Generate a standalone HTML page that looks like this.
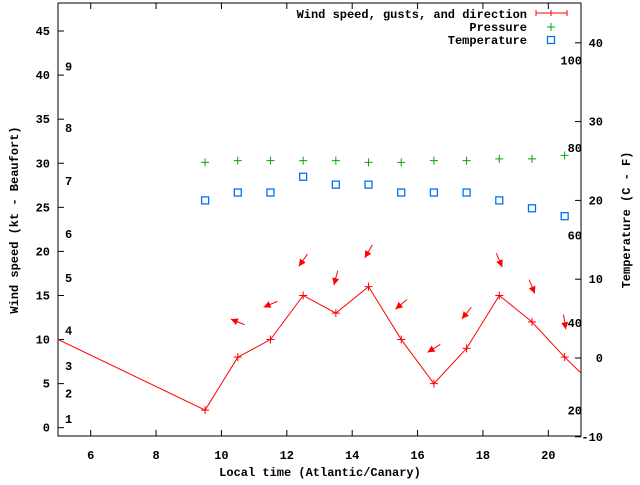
<!DOCTYPE html>
<html><head><meta charset="utf-8"><style>
body{margin:0;background:#fff}
svg text{font-family:"Liberation Mono",monospace;font-weight:bold;font-size:12px;fill:#000}
</style></head><body>
<svg id="chart" width="640" height="480" xmlns="http://www.w3.org/2000/svg">
<g id="axes"></g><g id="marks"></g><g id="legend"></g>
</svg>
<script>
const hours = [9.5,10.5,11.5,12.5,13.5,14.5,15.5,16.5,17.5,18.5,19.5,20.5];
const windSpeed = [2,8,10,15,13,16,10,5,9,15,12,8];
const lineHours = [4.5,9.5,10.5,11.5,12.5,13.5,14.5,15.5,16.5,17.5,18.5,19.5,20.5,21.5];
const lineSpeed = [10.9,2,8,10,15,13,16,10,5,9,15,12,8,4.4];
const gustHours = [10.5,11.5,12.5,13.5,14.5,15.5,16.5,17.5,18.5,19.5,20.5];
const gustSpeed = [12,14,19,17,20,14,9,13,19,16,12];
const windFrom = [112,67,35,15,30,50,58,39,337,338,351];
const pressure = [30.1,30.3,30.3,30.3,30.3,30.1,30.1,30.3,30.3,30.5,30.5,30.9];
const temperature = [20,21,21,23,22,22,21,21,21,20,19,18];
const xTicks = [6,8,10,12,14,16,18,20];
const yTicks = [0,5,10,15,20,25,30,35,40,45];
const y2Ticks = [-10,0,10,20,30,40];
const beaufort = [[1,1],[2,3.9],[3,7],[4,11],[5,17],[6,22],[7,28],[8,34],[9,41]];
const fahrenheit = [20,40,60,80,100];

const L=58,R=581,T=3,B=436;
const X=v=>L+(v-5)*(R-L)/16;
const Y=v=>427.7-v*8.815;
const Y2=v=>358-v*7.88;
const NS="http://www.w3.org/2000/svg";
const ax=document.getElementById('axes'), mk=document.getElementById('marks'), lg=document.getElementById('legend');
function el(p,t,a){const e=document.createElementNS(NS,t);for(const k in a)e.setAttribute(k,a[k]);p.appendChild(e);return e;}
function txt(p,x,y,s,anchor,name){const e=el(p,'text',{x:x,y:y,'text-anchor':anchor||'middle'});e.textContent=s;

return e;}

const frame=el(ax,'rect',{x:L,y:T,width:R-L,height:B-T,fill:'none',stroke:'#000','stroke-width':1});


xTicks.forEach(v=>{const x=X(v);
 el(ax,'line',{x1:x,y1:B,x2:x,y2:B-6,stroke:'#000'});el(ax,'line',{x1:x,y1:T,x2:x,y2:T+6,stroke:'#000'});
 txt(ax,x,459,String(v),'middle','x-tick-label');});
yTicks.forEach(v=>{const y=Y(v);
 el(ax,'line',{x1:L,y1:y,x2:L+6,y2:y,stroke:'#000'});
 txt(ax,L-8,y+4,String(v),'end','y-tick-label');});
y2Ticks.forEach(v=>{const y=Y2(v);
 el(ax,'line',{x1:R,y1:y,x2:R-6,y2:y,stroke:'#000'});
 txt(ax,R+22,y+4,String(v),'end','y2-tick-label');});
beaufort.forEach(b=>txt(ax,65,Y(b[1])+4,String(b[0]),'start','beaufort-label'));
fahrenheit.forEach(f=>txt(ax,582,Y2((f-32)*5/9)+4,String(f),'end','fahrenheit-label'));
txt(ax,320,476,'Local time (Atlantic/Canary)','middle','x-axis-title');
const yt=txt(ax,0,0,'Wind speed (kt - Beaufort)','middle','y-axis-title');yt.setAttribute('transform','translate(18,220) rotate(-90)');
const y2t=txt(ax,0,0,'Temperature (C - F)','middle','y2-axis-title');y2t.setAttribute('transform','translate(630,220) rotate(-90)');

const cp=el(mk,'clipPath',{id:'cp'});el(cp,'rect',{x:L,y:T,width:R-L,height:B-T});
const g=el(mk,'g',{'clip-path':'url(#cp)'});
const pl=el(g,'polyline',{points:lineHours.map((h,i)=>X(h)+','+Y(lineSpeed[i])).join(' '),fill:'none',stroke:'#f00','stroke-width':1});


function plus(x,y,c,name){const p=el(g,'path',{d:`M${x-4},${y}h8M${x},${y-4}v8`,stroke:c,'stroke-width':1});
 
 }
hours.forEach((h,i)=>plus(X(h),Y(windSpeed[i]),'#f00','wind-speed-point'));
hours.forEach((h,i)=>plus(X(h),Y(pressure[i]),'#0a0','pressure-point'));
hours.forEach((h,i)=>{const s=el(g,'rect',{x:X(h)-3.5,y:Y2(temperature[i])-3.5,width:7,height:7,fill:'none',stroke:'#0070ff','stroke-width':1.3});
 
 });
gustHours.forEach((h,i)=>{const cx=X(h),cy=Y(gustSpeed[i]);
 const hd=(windFrom[i]+180)*Math.PI/180;const dx=Math.sin(hd),dy=-Math.cos(hd);
 const len=15,x1=cx-dx*len/2,y1=cy-dy*len/2,x2=cx+dx*len/2,y2=cy+dy*len/2;
 const a=el(g,'g',{});
 
 
 el(a,'line',{x1:x1,y1:y1,x2:x2,y2:y2,stroke:'#f00','stroke-width':1});
 const px=-dy,py=dx,hl=7,hw=3.5;
 const bx=x2-dx*hl,by=y2-dy*hl;
 el(a,'polygon',{points:`${x2},${y2} ${bx+px*hw},${by+py*hw} ${bx-px*hw},${by-py*hw}`,fill:'#f00'});
});

txt(lg,527,18,'Wind speed, gusts, and direction','end','legend-wind-label');
el(lg,'path',{d:'M536,13h31M536,10v6M567,10v6M551,10v6',stroke:'#f00','stroke-width':1});
txt(lg,527,31,'Pressure','end','legend-pressure-label');
el(lg,'path',{d:'M547,27h8M551,23v8',stroke:'#0a0','stroke-width':1});
txt(lg,527,44,'Temperature','end','legend-temperature-label');
el(lg,'rect',{x:547.5,y:36.5,width:7,height:7,fill:'none',stroke:'#0070ff','stroke-width':1.3});
</script>
</body></html>
